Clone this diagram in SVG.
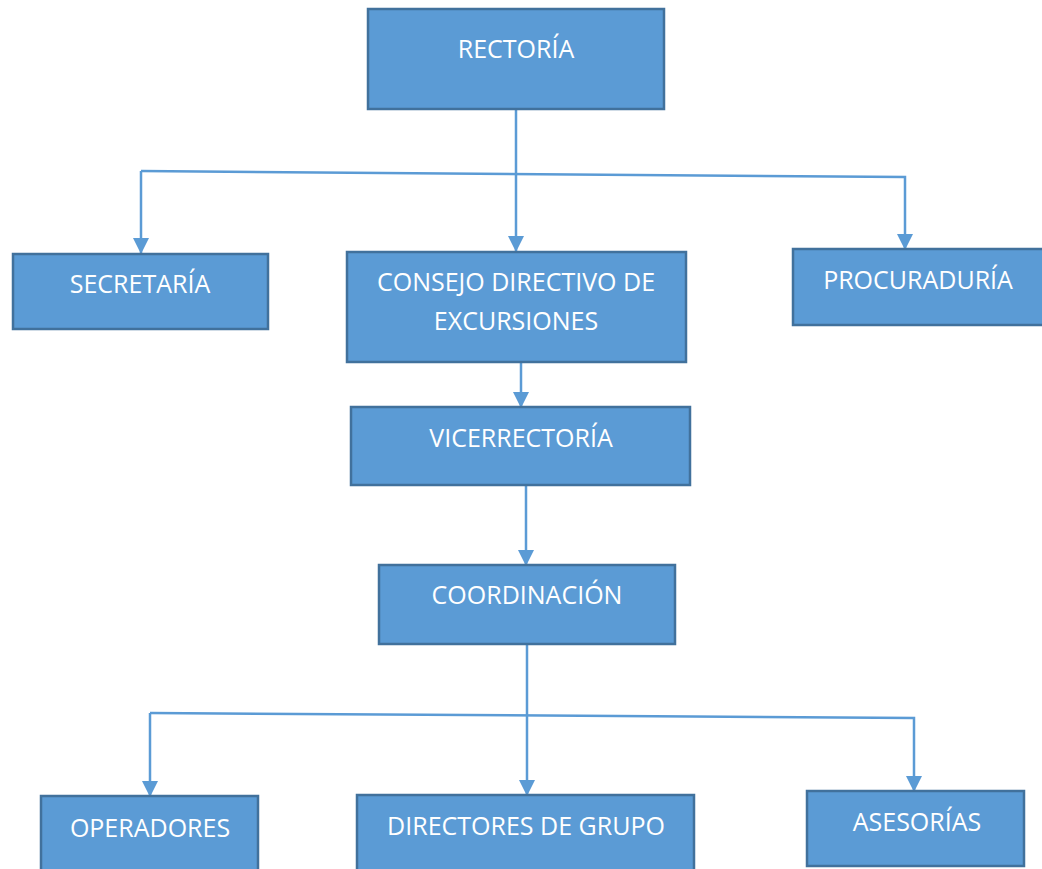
<svg xmlns="http://www.w3.org/2000/svg" width="1042" height="869" viewBox="0 0 1042 869">
<defs>
<marker id="arr" markerWidth="16" markerHeight="16" refX="15" refY="8" orient="auto" markerUnits="userSpaceOnUse" viewBox="0 0 16 16">
<path d="M0,0 L16,8 L0,16 Z" fill="#5B9BD5"/>
</marker>
</defs>
<style>
.box{fill:#5B9BD5;stroke:#41719C;stroke-width:2.5}
.lbl{font-family:"Open Sans","Liberation Sans",sans-serif;font-size:25px;fill:#ffffff;text-anchor:middle}
.con{fill:none;stroke:#5B9BD5;stroke-width:2.5}
</style>
<rect width="1042" height="869" fill="#ffffff"/>
<g id="connectors">
<line class="con" x1="516" y1="110" x2="516" y2="251" marker-end="url(#arr)"/>
<polyline class="con" points="141,171 905,177 905,249" marker-end="url(#arr)"/>
<line class="con" x1="141" y1="171" x2="141" y2="253" marker-end="url(#arr)"/>
<line class="con" x1="521" y1="363" x2="521" y2="407" marker-end="url(#arr)"/>
<line class="con" x1="526" y1="486" x2="526" y2="565" marker-end="url(#arr)"/>
<line class="con" x1="527" y1="645" x2="527" y2="795" marker-end="url(#arr)"/>
<polyline class="con" points="150,713 914,718 914,791" marker-end="url(#arr)"/>
<line class="con" x1="150" y1="713" x2="150" y2="796" marker-end="url(#arr)"/>
</g>
<g id="rectoria"><rect class="box" x="368" y="9" width="296" height="100"/><text class="lbl" x="516" y="58">RECTORÍA</text></g>
<g id="secretaria"><rect class="box" x="13" y="254" width="255" height="75"/><text class="lbl" x="140" y="293">SECRETARÍA</text></g>
<g id="consejo"><rect class="box" x="347" y="252" width="339" height="110"/><text class="lbl" x="516" y="291">CONSEJO DIRECTIVO DE</text><text class="lbl" x="516" y="330">EXCURSIONES</text></g>
<g id="procuraduria"><rect class="box" x="793" y="249" width="252" height="76"/><text class="lbl" x="918" y="289">PROCURADURÍA</text></g>
<g id="vicerrectoria"><rect class="box" x="351" y="407" width="339" height="78"/><text class="lbl" x="521" y="447">VICERRECTORÍA</text></g>
<g id="coordinacion"><rect class="box" x="379" y="565" width="296" height="79"/><text class="lbl" x="527" y="604">COORDINACIÓN</text></g>
<g id="operadores"><rect class="box" x="41" y="796" width="217" height="80"/><text class="lbl" x="150" y="837">OPERADORES</text></g>
<g id="directores"><rect class="box" x="357" y="795" width="337" height="80"/><text class="lbl" x="526" y="835">DIRECTORES DE GRUPO</text></g>
<g id="asesorias"><rect class="box" x="807" y="791" width="217" height="75"/><text class="lbl" x="917" y="831">ASESORÍAS</text></g>
</svg>
